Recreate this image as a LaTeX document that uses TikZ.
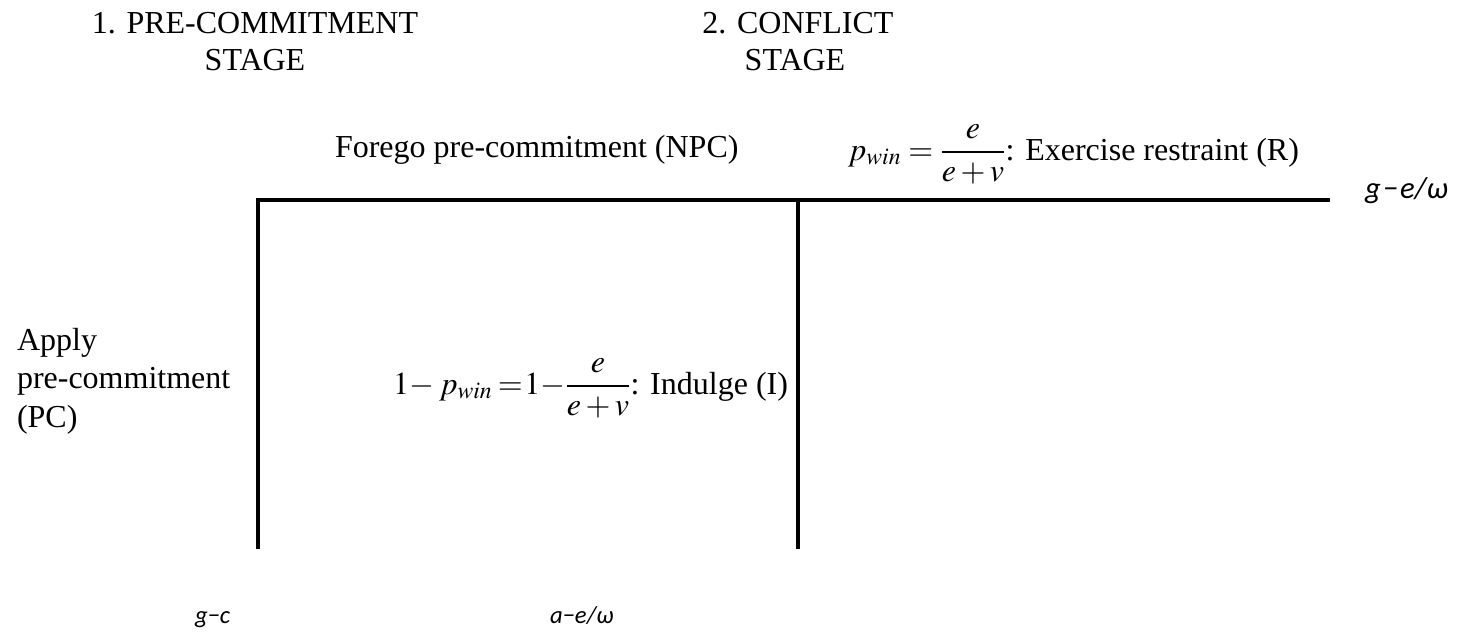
\documentclass[tikz,border=0pt]{standalone}
\usepackage{amsmath}
\usepackage{mathptmx}
\usepackage{fontspec}
\setmainfont{Liberation Serif}
\newfontfamily\carl{Carlito}
\begin{document}
\begin{tikzpicture}[x=0.75pt,y=-0.75pt,
  lbl/.style={inner sep=0pt,outer sep=0pt,font=\fontsize{24}{27.75}\selectfont},
  pay/.style={inner sep=0pt,outer sep=0pt,font=\carl\itshape\fontsize{23}{27}\selectfont},
  payb/.style={inner sep=0pt,outer sep=0pt,font=\carl\itshape\fontsize{18.5}{22}\selectfont},
  branch/.style={line width=3pt,line join=miter,line cap=rect}]
\useasboundingbox (0,0) rectangle (1461,633);
% stage headers
\node[lbl,anchor=base] (s1a) at (255,33) {1. PRE-COMMITMENT};
\node[lbl,anchor=base] (s1b) at (255,70) {STAGE};
\node[lbl,anchor=base] (s2a) at (798,33) {2. CONFLICT};
\node[lbl,anchor=base] (s2b) at (795,70) {STAGE};
% tree
\coordinate (pcEnd) at (258,547);
\coordinate (root) at (258,199.5);
\coordinate (n2) at (798,199.5);
\coordinate (rEnd) at (1328,199.5);
\coordinate (iEnd) at (798,547);
\draw[branch] (pcEnd) -- (root) -- (n2) -- (rEnd);
\draw[branch] (n2) -- (iEnd);
% labels
\node[lbl,anchor=base west] (npc) at (335,157) {Forego pre-commitment (NPC)};
\node[lbl,anchor=base west] (rlab) at (848,160) {$p_{win}\mkern4mu{=}\mkern4mu\dfrac{e}{e+v}$: Exercise restraint (R)};
\node[lbl,anchor=base west] (ilab) at (393,394) {$1{-}\mkern3mu p_{win}\mkern3mu{=}\mkern1mu 1{-}\dfrac{e}{e+v}$: Indulge (I)};
\node[lbl,anchor=base west] (pc1) at (17,350) {Apply};
\node[lbl,anchor=base west] (pc2) at (17,388.5) {pre-commitment};
\node[lbl,anchor=base west] (pc3) at (17,427) {(PC)};
% payoffs
\node[pay,anchor=base west] (payR) at (1365,198) {g\kern1.5pt−\kern1.5pt e/ω};
\node[payb,anchor=base west] (payPC) at (195,623) {g−c};
\node[payb,anchor=base west] (payI) at (550,623) {a−e/ω};
\end{tikzpicture}
\end{document}
